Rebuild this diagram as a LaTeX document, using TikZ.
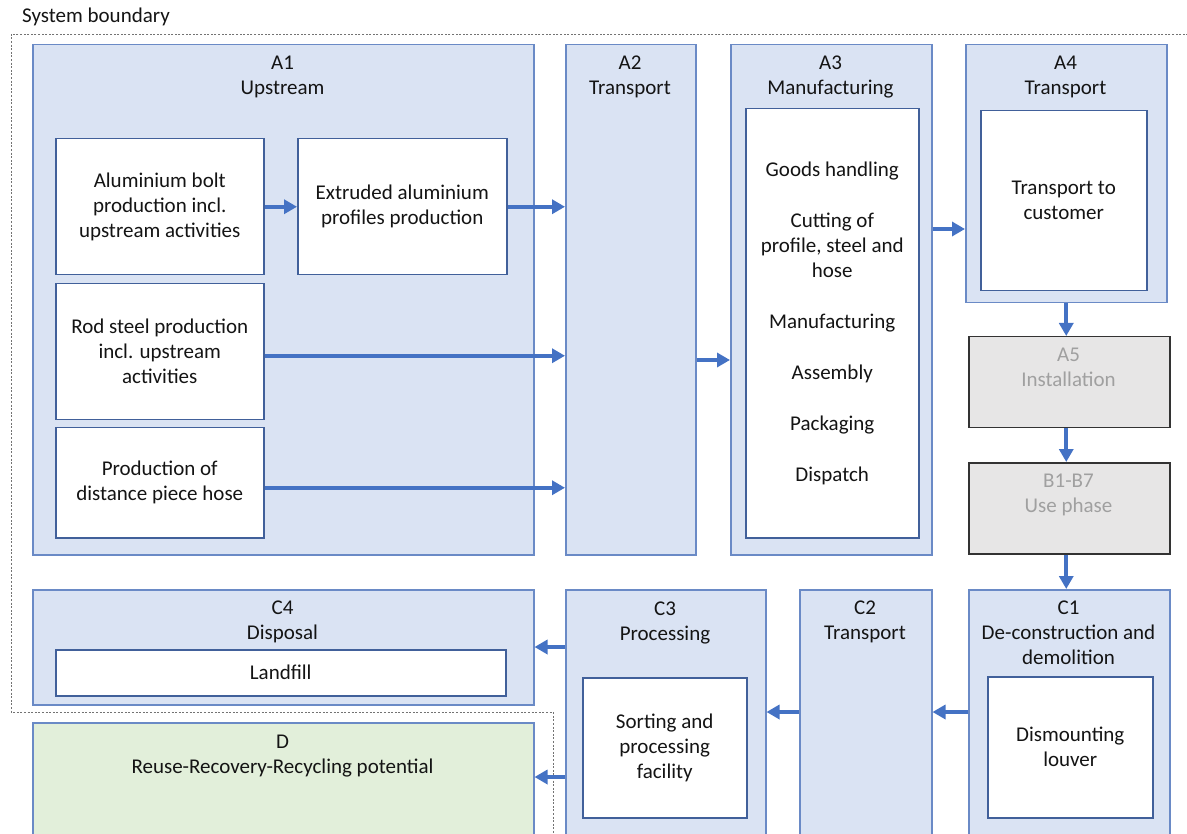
\documentclass[tikz,border=0pt]{standalone}
\usepackage{fontspec}
\setmainfont{Carlito}
\usetikzlibrary{arrows.meta,decorations.markings}
\definecolor{stagefill}{HTML}{DAE3F3}
\definecolor{stageline}{HTML}{6A8AC6}
\definecolor{innerline}{HTML}{41609A}
\definecolor{arrowblue}{HTML}{4472C4}
\definecolor{greyfill}{HTML}{E7E6E6}
\definecolor{greytext}{HTML}{A0A0A0}
\definecolor{benefitfill}{HTML}{E2EFDA}
\definecolor{inktext}{HTML}{141414}
\tikzset{
  stage/.style = {draw=stageline, fill=stagefill, line width=1.5pt, anchor=north west, inner sep=0pt},
  inner/.style = {draw=innerline, fill=white, line width=1.5pt, anchor=north west, align=center, text=inktext},
  offstage/.style = {draw=black!80, fill=greyfill, line width=1.5pt, anchor=north west, inner sep=0pt},
  title/.style = {anchor=north, align=center, inner sep=0pt, text=inktext},
  boundary/.style = {draw=black!55, line width=0.9pt, dash pattern=on 2pt off 1.6pt},
  flow/.style = {draw=arrowblue, line width=3.8pt, shorten >=9pt,
    decoration={markings, mark=at position 1 with {\arrow[arrowblue]{Triangle[length=13pt,width=14pt]}}},
    postaction={decorate}}
}

\begin{document}
\begin{tikzpicture}[x=1pt,y=-1pt,font=\fontsize{21}{25}\selectfont]
\useasboundingbox (0,0) rectangle (1187,834);
\clip (0,0) rectangle (1187,834);

\node[anchor=west, inner sep=0pt, text=inktext] (sysb) at (22,17) {System boundary};
\draw[boundary] (1192,34) -- (11,34) -- (11,712) -- (553,712) -- (553,840);

% A modules
\node[stage, minimum width=501, minimum height=510] (a1) at (32,44) {};
\node[title] (a1t) at (282.5,52) {\strut A1\\Upstream};
\node[inner, minimum width=208, minimum height=136] (bolt) at (55,138) {Aluminium bolt\\production incl.\\upstream activities};
\node[inner, minimum width=209, minimum height=136] (extr) at (297,138) {Extruded aluminium\\profiles production};
\node[inner, minimum width=208, minimum height=136] (rod) at (55,283) {Rod steel production\\incl. upstream\\activities};
\node[inner, minimum width=208, minimum height=110] (hose) at (55,427) {Production of\\distance piece hose};

\node[stage, minimum width=130, minimum height=510] (a2) at (565,44) {};
\node[title] (a2t) at (630,52) {\strut A2\\Transport};

\node[stage, minimum width=201, minimum height=510] (a3) at (730,44) {};
\node[title] (a3t) at (830.5,52) {\strut A3\\Manufacturing};
\node[inner, minimum width=173, minimum height=429] (mfg) at (745,108)
  {Goods handling\\[26pt]Cutting of\\profile, steel and\\hose\\[26pt]Manufacturing\\[26pt]Assembly\\[26pt]Packaging\\[26pt]Dispatch};

\node[stage, minimum width=201, minimum height=258] (a4) at (965,44) {};
\node[title] (a4t) at (1065.5,52) {\strut A4\\Transport};
\node[inner, minimum width=166, minimum height=180] (cust) at (980,110) {Transport to\\customer};

\node[offstage, minimum width=201, minimum height=91] (a5) at (968,336) {};
\node[title, text=greytext] (a5t) at (1068.5,344) {\strut A5\\Installation};
\node[offstage, minimum width=201, minimum height=91] (b) at (968,462) {};
\node[title, text=greytext] (bt) at (1068.5,470) {\strut B1-B7\\Use phase};

% C and D modules
\node[stage, minimum width=201, minimum height=260] (c1) at (968,589) {};
\node[title] (c1t) at (1068.5,597) {\strut C1\\De-construction and\\demolition};
\node[inner, minimum width=165, minimum height=141] (dism) at (987,676) {Dismounting\\louver};

\node[stage, minimum width=132, minimum height=260] (c2) at (799,589) {};
\node[title] (c2t) at (865,597) {\strut C2\\Transport};

\node[stage, minimum width=200, minimum height=260] (c3) at (565,589) {};
\node[title] (c3t) at (665,598) {\strut C3\\Processing};
\node[inner, minimum width=164, minimum height=140] (sort) at (582,677) {Sorting and\\processing\\facility};

\node[stage, minimum width=501, minimum height=115] (c4) at (32,589) {};
\node[title] (c4t) at (282.5,597) {\strut C4\\Disposal};
\node[inner, minimum width=450, minimum height=46] (fill) at (55,649) {Landfill};

\node[stage, fill=benefitfill, minimum width=501, minimum height=130] (d) at (32,722) {};
\node[title] (dt) at (282.5,731) {\strut D\\Reuse-Recovery-Recycling potential};

% flows
\coordinate (y23) at (0,360);
\coordinate (y34) at (0,229);
\coordinate (yc) at (0,712);
\coordinate (yc4) at (0,647);
\coordinate (yd) at (0,777);
\draw[flow] (bolt.east) -- (extr.west);
\draw[flow] (extr.east) -- (extr.east -| a2.west);
\draw[flow] ([yshift=-4pt]rod.east) -- ([yshift=-4pt]rod.east -| a2.west);
\draw[flow] ([yshift=-5pt]hose.east) -- ([yshift=-5pt]hose.east -| a2.west);
\draw[flow] (a2.east |- y23) -- (a3.west |- y23);
\draw[flow] (a3.east |- y34) -- (a4.west |- y34);
\draw[flow] (a4.south) -- (a4.south |- a5.north);
\draw[flow] (a5.south -| a4.south) -- (a4.south |- b.north);
\draw[flow] (b.south -| a4.south) -- (a4.south |- c1.north);
\draw[flow] (c1.west |- yc) -- (c2.east |- yc);
\draw[flow] (c2.west |- yc) -- (c3.east |- yc);
\draw[flow] (c3.west |- yc4) -- (c4.east |- yc4);
\draw[flow] (c3.west |- yd) -- (d.east |- yd);
\end{tikzpicture}
\end{document}
